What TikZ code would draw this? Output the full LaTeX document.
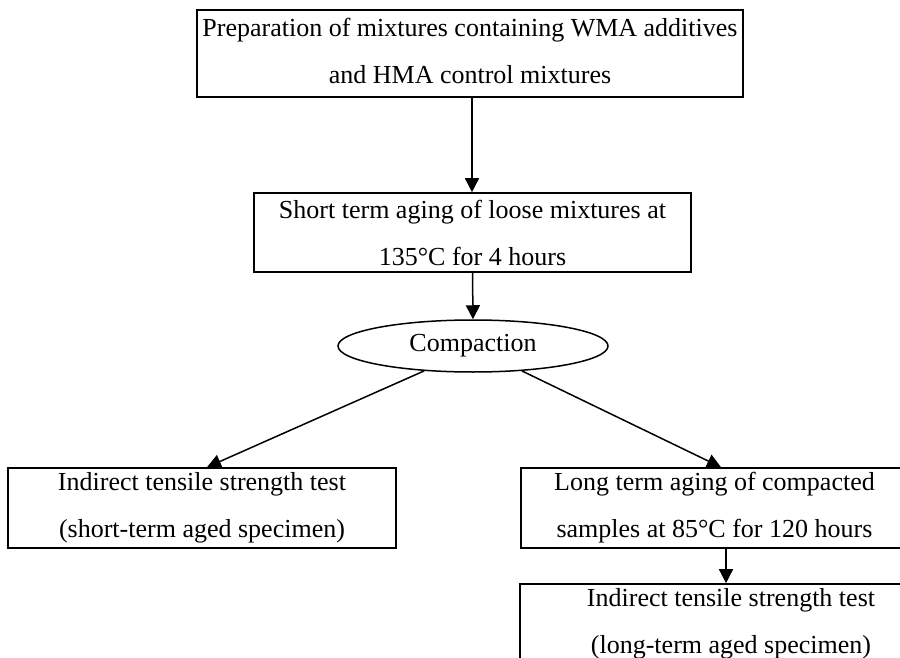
\documentclass[tikz,border=0pt]{standalone}
\usepackage{fontspec}
\setmainfont{Liberation Serif}
\usetikzlibrary{arrows.meta,shapes.geometric}
\begin{document}
\begin{tikzpicture}[x=1pt,y=-1pt,
  box/.style={draw,line width=1.6pt,rectangle,inner sep=0pt,align=center,
    font=\fontsize{26}{47}\selectfont},
  oval/.style={draw,line width=1.5pt,ellipse,inner sep=0pt,
    font=\fontsize{26}{47}\selectfont},
  arr/.style={line width=1.5pt,-{Triangle[width=14pt,length=14pt]}}]
\clip (0,0) rectangle (900,658);
\fill[white] (0,0) rectangle (900,658);
\node[box,minimum width=546pt,minimum height=87pt] (b1) at (470,53.5)
  {Preparation of mixtures containing WMA additives\\and HMA control mixtures\rule[-6pt]{0pt}{1pt}};
\node[box,minimum width=437pt,minimum height=79pt] (b2) at (472.5,232.5)
  {Short term aging of loose mixtures at\\135°C for 4 hours};
\node[oval,minimum width=270pt,minimum height=52pt] (comp) at (473,346) {Compaction};
\node[box,minimum width=388pt,minimum height=80pt] (b3) at (202,508)
  {Indirect tensile strength test\\(short-term aged specimen)};
\node[box,minimum width=387pt,minimum height=80pt] (b4) at (714.5,508)
  {Long term aging of compacted\\samples at 85°C for 120 hours};
\node[box,minimum width=422pt,minimum height=80pt] (b5) at (731,624)
  {Indirect tensile strength test\\(long-term aged specimen)};
\draw[arr] ([xshift=2pt]b1.south) -- ([xshift=2pt]b1.south |- b2.north);
\draw[arr] (b2.south) -- (comp.north);
\draw[arr] (comp.207) -- ([xshift=5pt]b3.north);
\draw[arr] (comp.333) -- ([xshift=6.5pt]b4.north);
\draw[arr] ([xshift=11.5pt]b4.south) -- ([xshift=11.5pt]b4.south |- b5.north);
\end{tikzpicture}
\end{document}
